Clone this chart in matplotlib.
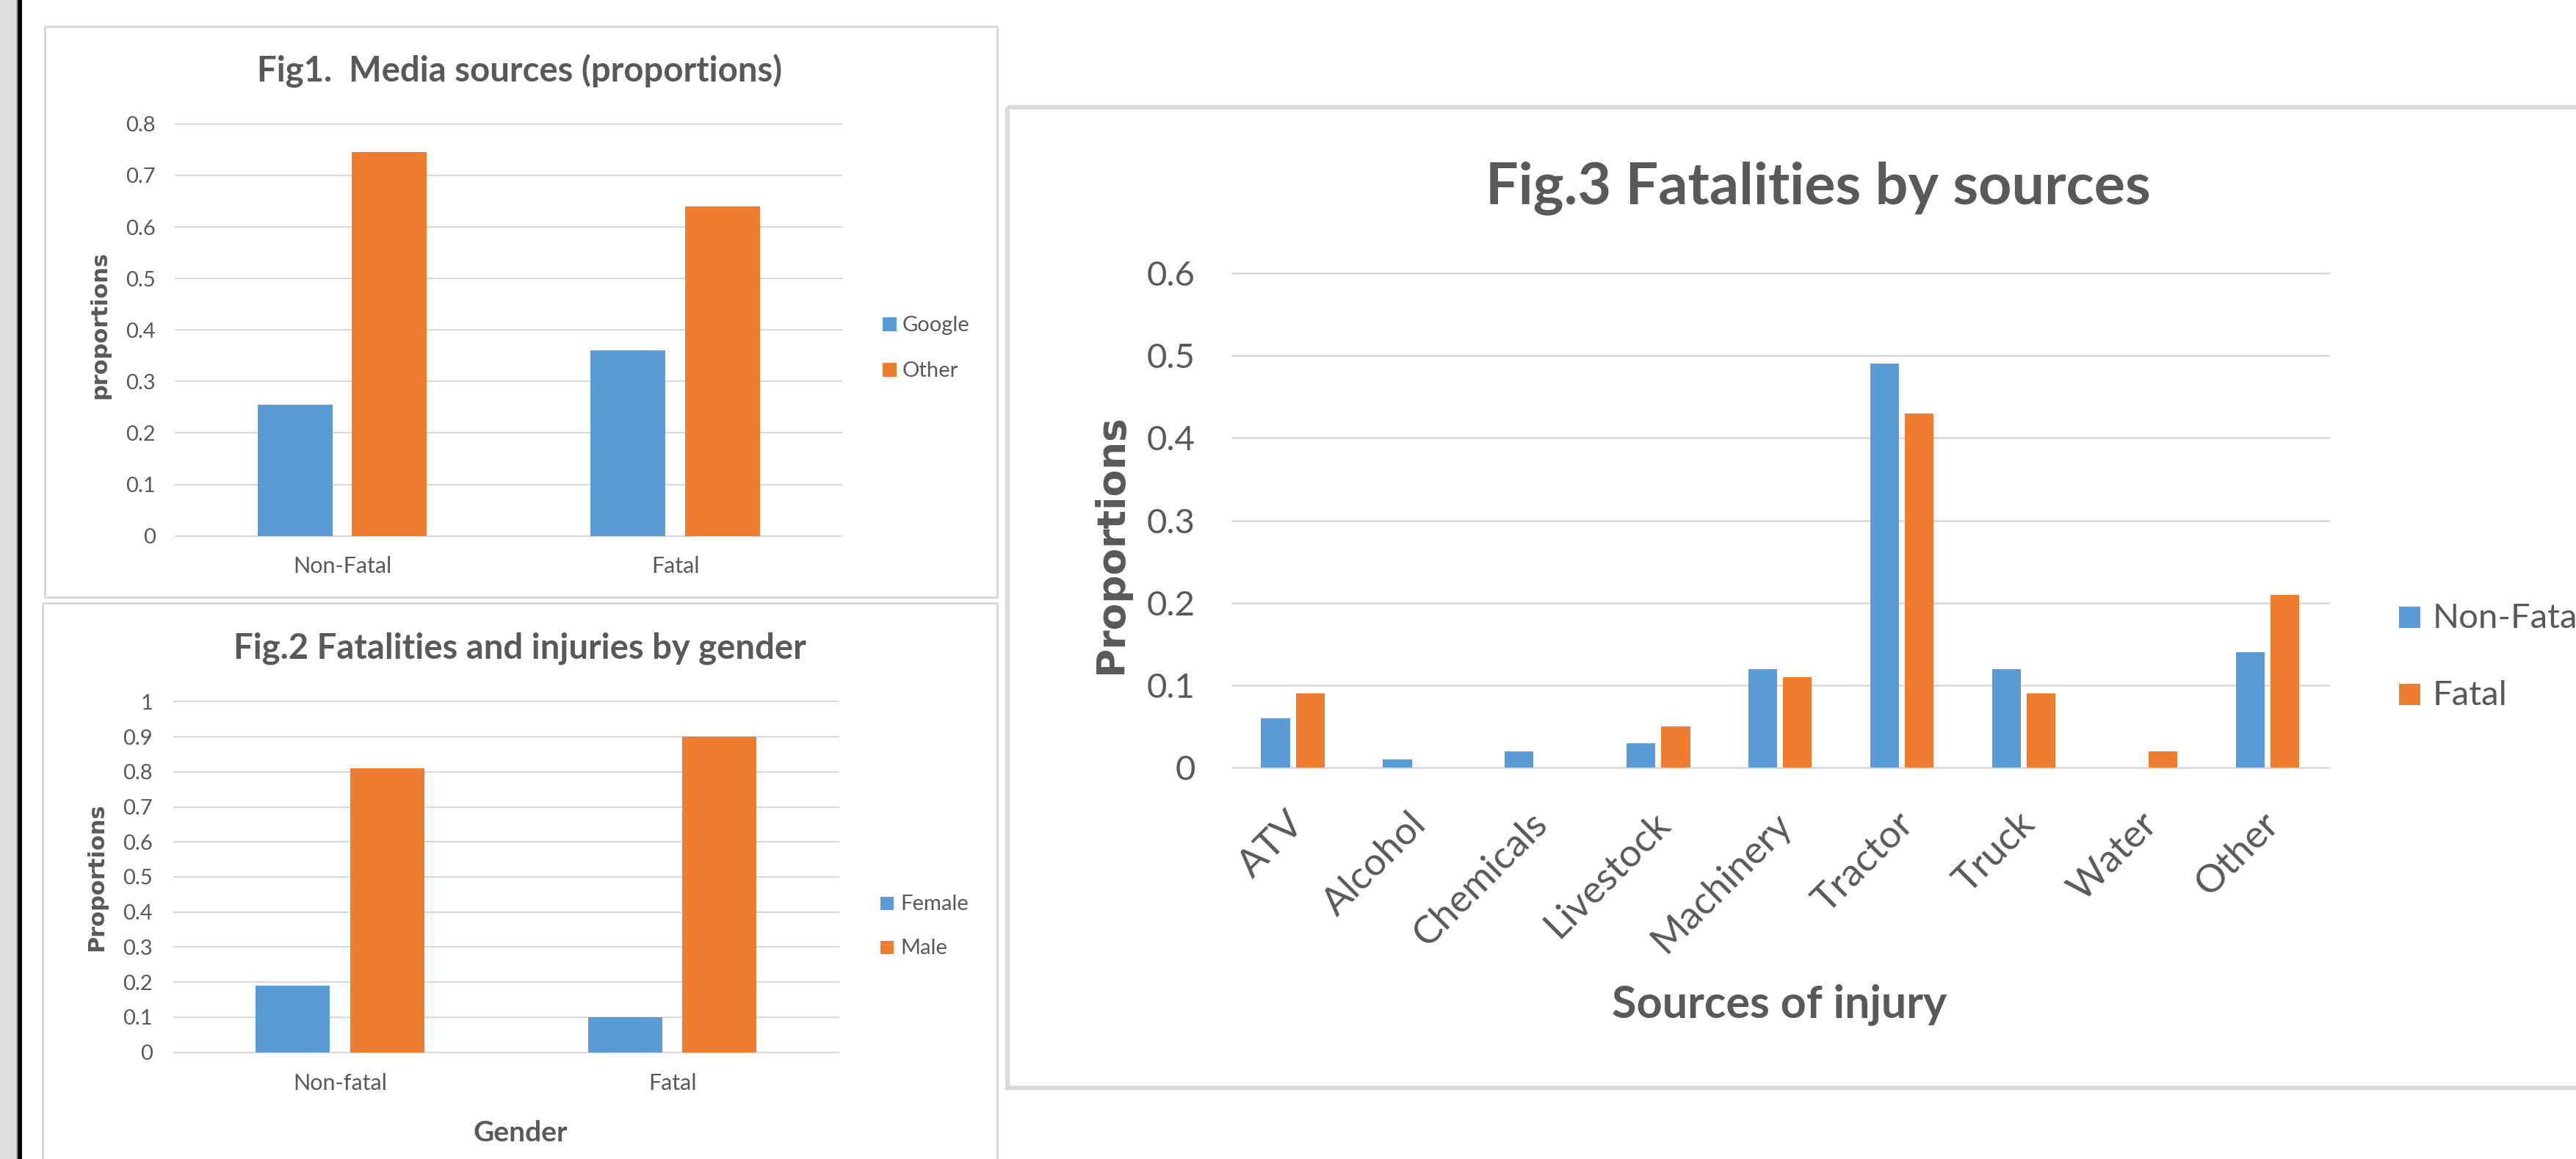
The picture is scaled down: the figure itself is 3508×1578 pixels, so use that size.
import matplotlib
matplotlib.use("Agg")
import matplotlib.pyplot as plt
from matplotlib.patches import Rectangle
from matplotlib.transforms import Affine2D, ScaledTranslation
import numpy as np

plt.rcParams['font.family'] = ['Lato', 'DejaVu Sans']

W, H, DPI = 3508, 1578, 100
BLUE = '#5B9BD5'
ORANGE = '#ED7D31'
GRID = '#D9D9D9'
TEXT = '#595959'

# ---------------- data ----------------
media_groups = ["Non-Fatal", "Fatal"]
media_series = ["Google", "Other"]
media_google = [0.255, 0.36]
media_other = [0.745, 0.64]
media_ticks = [0, 0.1, 0.2, 0.3, 0.4, 0.5, 0.6, 0.7, 0.8]
media_ticklabels = ["0", "0.1", "0.2", "0.3", "0.4", "0.5", "0.6", "0.7", "0.8"]

gender_groups = ["Non-fatal", "Fatal"]
gender_series = ["Female", "Male"]
gender_female = [0.19, 0.10]
gender_male = [0.81, 0.90]
gender_ticks = [0, 0.1, 0.2, 0.3, 0.4, 0.5, 0.6, 0.7, 0.8, 0.9, 1.0]
gender_ticklabels = ["0", "0.1", "0.2", "0.3", "0.4", "0.5", "0.6", "0.7", "0.8", "0.9", "1"]

source_categories = ["ATV", "Alcohol", "Chemicals", "Livestock", "Machinery",
                     "Tractor", "Truck", "Water", "Other"]
source_series = ["Non-Fatal", "Fatal"]
source_nonfatal = [0.06, 0.01, 0.02, 0.03, 0.12, 0.49, 0.12, 0.0, 0.14]
source_fatal = [0.09, 0.0, 0.0, 0.05, 0.11, 0.43, 0.09, 0.02, 0.21]
source_ticks = [0, 0.1, 0.2, 0.3, 0.4, 0.5, 0.6]
source_ticklabels = ["0", "0.1", "0.2", "0.3", "0.4", "0.5", "0.6"]

# ---------------- figure ----------------
fig = plt.figure(figsize=(W / DPI, H / DPI), dpi=DPI, facecolor='white')
# pixel coordinates, origin at the top-left corner
PX = Affine2D().scale(1.0 / W, -1.0 / H).translate(0, 1) + fig.transFigure
YLABEL_FONT = ['DejaVu Sans']


def px_axes(x0, y0, x1, y1):
    return fig.add_axes([x0 / W, 1 - y1 / H, (x1 - x0) / W, (y1 - y0) / H])


def rect(x0, y0, w, h, **kw):
    fig.add_artist(Rectangle((x0, y0), w, h, transform=PX, **kw))


def frame(x0, y0, x1, y1, lw):
    rect(x0, y0, x1 - x0, y1 - y0, fill=False, edgecolor=GRID,
         linewidth=lw, zorder=0)


def bar_panel(ax, cats, a, b, width, offset, ticks, ticklabels,
              tick_size, tick_pad, grid_lw):
    x = np.arange(len(cats))
    ax.bar(x - offset, a, width, color=BLUE, zorder=2)
    ax.bar(x + offset, b, width, color=ORANGE, zorder=2)
    ax.set_xlim(-0.5, len(cats) - 0.5)
    ax.set_ylim(ticks[0], ticks[-1])
    ax.set_yticks(ticks, ticklabels)
    ax.set_xticks(x, cats)
    for s in ax.spines.values():
        s.set_visible(False)
    ax.tick_params(length=0, labelsize=tick_size, labelcolor=TEXT, pad=tick_pad)
    ax.yaxis.grid(True, color=GRID, linewidth=grid_lw)
    ax.set_axisbelow(True)
    for gl in ax.get_ygridlines():
        gl.set_clip_on(False)
    ax.patch.set_visible(False)


def legend_item(x, y_top, size, color, label, fs, text_x):
    rect(x, y_top, size, size, facecolor=color, edgecolor='none')
    fig.text(text_x, y_top + size, label, transform=PX, fontsize=fs,
             color=TEXT, va='baseline', ha='left')


# window edge on the left
rect(0, 0, 22, H, facecolor='#DCDDDF', edgecolor='none')
rect(22, 0, 2, H, facecolor='#A9A9A9', edgecolor='none')
rect(24, 0, 6, H, facecolor='#050505', edgecolor='none')

# chart frames
frame(60.5, 35.5, 1358, 813.5, 2.2)
frame(57.5, 821.5, 1358, 1700, 2.2)
frame(1372, 146, 3700, 1481, 4.3)

# ---------------- Fig 1 ----------------
ax1 = px_axes(239.3, 168.9, 1146.4, 729.6)
bar_panel(ax1, media_groups, media_google, media_other, 0.2245, 0.1416,
          media_ticks, media_ticklabels, 21, 20, 1.5)
ax1.tick_params(axis='x', labelsize=22)
fig.text(707.6, 111.4, "Fig1.  Media sources (proportions)", transform=PX,
         fontsize=34, fontweight='bold', color=TEXT, ha='center', va='baseline')
fig.text(136, 442, "proportions", transform=PX, rotation=90,
         fontsize=22, fontweight='bold', color=TEXT, ha='center', va='center',
         family=YLABEL_FONT)
legend_item(1202, 432, 19, BLUE, media_series[0], 21, 1229)
legend_item(1202, 494, 19, ORANGE, media_series[1], 21, 1229)

# ---------------- Fig 2 ----------------
ax2 = px_axes(236.6, 955.3, 1142, 1432.7)
bar_panel(ax2, gender_groups, gender_female, gender_male, 0.223, 0.142,
          gender_ticks, gender_ticklabels, 21, 20.5, 1.5)
ax2.tick_params(axis='x', labelsize=22)
fig.text(708, 896.8, "Fig.2 Fatalities and injuries by gender", transform=PX,
         fontsize=34, fontweight='bold', color=TEXT, ha='center', va='baseline')
fig.text(132, 1194, "Proportions", transform=PX, rotation=90,
         fontsize=22, fontweight='bold', color=TEXT, ha='center', va='center',
         family=YLABEL_FONT)
fig.text(709, 1554, "Gender", transform=PX, fontsize=28, fontweight='bold',
         color=TEXT, ha='center', va='baseline')
legend_item(1199, 1221, 18, BLUE, gender_series[0], 21, 1226)
legend_item(1199, 1281, 18, ORANGE, gender_series[1], 21, 1226)

# ---------------- Fig 3 ----------------
ax3 = px_axes(1677.6, 372, 3171, 1045.2)
bar_panel(ax3, source_categories, source_nonfatal, source_fatal, 0.236, 0.142,
          source_ticks, source_ticklabels, 34, 36, 1.9)
ax3.tick_params(axis='x', pad=38)
shift = ScaledTranslation(-9 / DPI, 0, fig.dpi_scale_trans)
for lab in ax3.get_xticklabels():
    lab.set_rotation(45)
    lab.set_rotation_mode('anchor')
    lab.set_ha('right')
    lab.set_va('top')
    lab.set_fontsize(38)
    lab.set_transform(lab.get_transform() + shift)
fig.text(2476, 278, "Fig.3 Fatalities by sources", transform=PX,
         fontsize=57, fontweight='bold', color=TEXT, ha='center', va='baseline')
fig.text(1513, 741, "Proportions", transform=PX, rotation=90,
         fontsize=38.5, fontweight='bold', color=TEXT, ha='center', va='center',
         family=YLABEL_FONT)
fig.text(2423.5, 1385, "Sources of injury", transform=PX, fontsize=44,
         fontweight='bold', color=TEXT, ha='center', va='baseline')
legend_item(3267, 826, 29, BLUE, source_series[0], 34, 3313)
legend_item(3267, 931, 29, ORANGE, source_series[1], 34, 3313)

fig.savefig("out.png", dpi=DPI, facecolor='white')
